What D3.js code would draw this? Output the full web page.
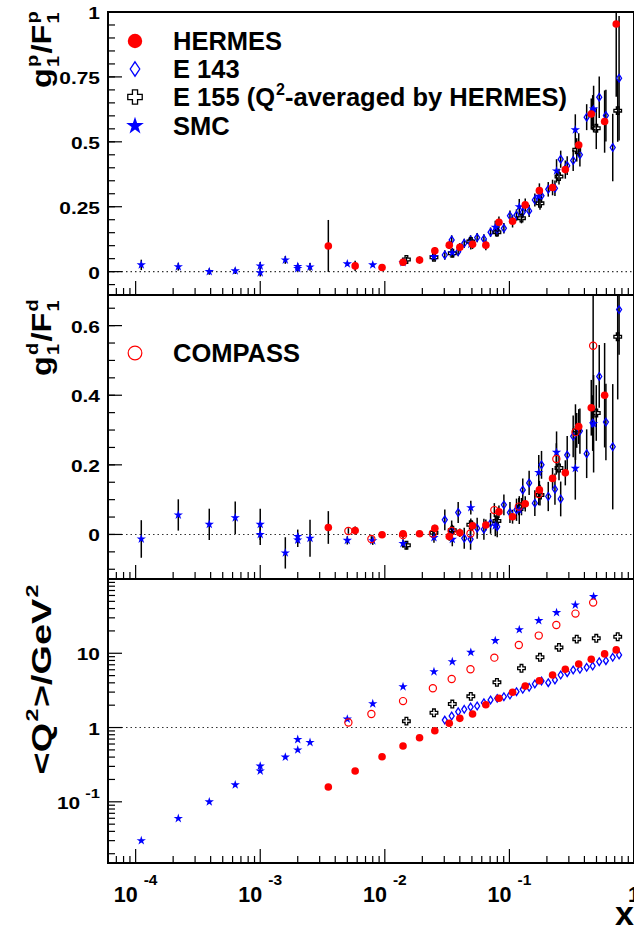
<!DOCTYPE html>
<html>
<head>
<meta charset="utf-8">
<script src="https://cdn.jsdelivr.net/npm/d3@7"></script>
<style>
body { margin: 0; background: #fff; }
text { font-family: "Liberation Sans", Arial, Helvetica, sans-serif; font-weight: bold; fill: #000; }
</style>
</head>
<body>
<svg id="chart" width="634" height="927"></svg>
<script>
// HERMES
var xHermes = [0.00352, 0.00578, 0.0095, 0.0140, 0.0190, 0.0252, 0.0329, 0.0400, 0.0506, 0.0647,
               0.0824, 0.106, 0.134, 0.174, 0.222, 0.281, 0.360, 0.454, 0.581, 0.720];
var g1pHermes = [0.099, 0.022, 0.016, 0.036, 0.045, 0.080, 0.102, 0.094, 0.105, 0.102,
                 0.190, 0.194, 0.257, 0.312, 0.324, 0.393, 0.488, 0.607, 0.578, 0.954];
var g1pHermesErr = [0.10, 0.02, 0.012, 0.012, 0.014, 0.015, 0.015, 0.016, 0.018, 0.02,
                    0.022, 0.024, 0.025, 0.028, 0.03, 0.035, 0.045, 0.06, 0.12, 0.28];
var g1dHermes = [0.02, 0.011, -0.001, 0.002, 0.002, 0.018, -0.006, 0.005, 0.025, 0.027,
                 0.065, 0.051, 0.088, 0.128, 0.161, 0.177, 0.31, 0.364, 0.40, null];
var g1dHermesErr = [0.047, 0.012, 0.008, 0.008, 0.009, 0.01, 0.012, 0.012, 0.014, 0.016,
                    0.018, 0.02, 0.022, 0.026, 0.03, 0.036, 0.05, 0.08, 0.15, null];
var q2Hermes = [0.158, 0.26, 0.405, 0.564, 0.73, 0.906, 1.14, 1.33, 1.52, 2.03,
                2.48, 2.98, 3.62, 4.27, 5.1, 6.08, 7.18, 8.3, 9.8, 11.1];

// E 143
var xE143 = [0.0303, 0.0344, 0.0388, 0.0434, 0.0488, 0.0551, 0.0624, 0.0706, 0.0798, 0.0903,
             0.101, 0.114, 0.128, 0.144, 0.160, 0.181, 0.205, 0.232, 0.258, 0.291,
             0.325, 0.368, 0.417, 0.466, 0.526, 0.595, 0.675, 0.759];
var g1pE143 = [0.064, 0.122, 0.077, 0.109, 0.122, 0.131, 0.126, 0.152, 0.16, 0.167,
               0.215, 0.218, 0.229, 0.234, 0.276, 0.292, 0.317, 0.321, 0.433, 0.408,
               0.428, 0.45, 0.595, 0.62, 0.672, 0.601, 0.478, 0.745];
var g1pE143Err = [0.018, 0.018, 0.018, 0.018, 0.018, 0.018, 0.018, 0.018, 0.02, 0.02,
                  0.02, 0.022, 0.022, 0.024, 0.025, 0.027, 0.028, 0.03, 0.033, 0.036,
                  0.04, 0.045, 0.05, 0.06, 0.08, 0.1, 0.13, 0.24];
var g1dE143 = [0.042, 0.01, 0.063, -0.011, -0.014, 0.018, 0.015, 0.032, 0.022, 0.085,
               0.063, 0.071, 0.128, 0.148, 0.09, 0.20, 0.109, 0.13, 0.102, 0.228,
               0.282, 0.297, 0.232, 0.32, 0.454, 0.323, 0.252, 0.646];
var g1dE143Err = [0.03, 0.03, 0.03, 0.03, 0.03, 0.03, 0.03, 0.03, 0.03, 0.03,
                  0.03, 0.032, 0.033, 0.035, 0.037, 0.04, 0.042, 0.045, 0.05, 0.055,
                  0.06, 0.065, 0.07, 0.08, 0.09, 0.11, 0.18, 0.13];
var q2E143 = [1.26, 1.43, 1.63, 1.76, 1.89, 1.95, 2.16, 2.35, 2.47, 2.60,
              2.74, 3.04, 3.27, 3.48, 3.86, 4.24, 4.02, 4.37, 5.1, 5.48,
              5.96, 6.08, 6.47, 6.74, 7.7, 7.95, 8.83, 9.49];

// E 155 (Q2-averaged by HERMES)
var xE155 = [0.0149, 0.0248, 0.0348, 0.049, 0.0794, 0.125, 0.176, 0.25, 0.347, 0.498, 0.74];
var g1pE155 = [0.047, 0.055, 0.071, 0.116, 0.152, 0.206, 0.263, 0.366, 0.469, 0.552, 0.62];
var g1pE155Err = [0.01, 0.012, 0.014, 0.016, 0.018, 0.02, 0.025, 0.03, 0.045, 0.08, 0.12];
var g1dE155 = [-0.031, 0.005, 0.012, 0.028, 0.039, 0.08, 0.113, 0.191, 0.299, 0.349, 0.568];
var g1dE155Err = [0.012, 0.015, 0.016, 0.018, 0.02, 0.025, 0.03, 0.035, 0.05, 0.08, 0.18];
var q2E155 = [1.22, 1.58, 2.07, 2.63, 4.06, 6.28, 8.83, 12.0, 15.5, 15.9, 16.7];

// SMC
var xSmc = [1.11e-4, 2.2e-4, 3.9e-4, 6.3e-4, 1.0e-3, 1.0e-3, 1.59e-3, 2.0e-3, 2.0e-3, 2.51e-3,
            5.0e-3, 8.0e-3, 0.014, 0.0248, 0.0348, 0.049, 0.077, 0.12, 0.172, 0.239, 0.338, 0.474];
var g1pSmc = [0.026, 0.019, 0.0, 0.003, 0.022, -0.004, 0.045, 0.02, 0.012, 0.018,
              0.030, 0.026, 0.035, 0.058, 0.073, 0.105, 0.171, 0.25, 0.29, 0.388, 0.546, 0.626];
var g1pSmcErr = [0.02, 0.015, 0.012, 0.012, 0.015, 0.015, 0.015, 0.012, 0.01, 0.015,
                 0.008, 0.008, 0.01, 0.015, 0.018, 0.02, 0.025, 0.03, 0.035, 0.045, 0.06, 0.09];
var g1dSmc = [-0.013, 0.056, 0.029, 0.048, 0.029, 0.0, -0.053, -0.006, -0.016, -0.011,
              -0.017, -0.018, -0.026, -0.009, -0.014, 0.077, 0.025, 0.07, 0.178, 0.236, 0.19, 0.318];
var g1dSmcErr = [0.054, 0.045, 0.045, 0.047, 0.045, 0.03, 0.045, 0.02, 0.02, 0.053,
                 0.012, 0.012, 0.012, 0.015, 0.02, 0.02, 0.03, 0.04, 0.05, 0.06, 0.09, 0.14];
var q2Smc = [0.030, 0.0597, 0.100, 0.169, 0.303, 0.26, 0.40, 0.69, 0.50, 0.63,
             1.30, 2.09, 3.55, 5.65, 7.7, 10.3, 14.8, 20.8, 27.5, 35.3, 44.7, 57.9];

// COMPASS
var xCompass = [0.0051, 0.0078, 0.014, 0.0243, 0.0344, 0.0487, 0.0757, 0.119, 0.172, 0.238, 0.339, 0.47];
var g1dCompass = [0.01, -0.013, -0.002, 0.003, 0.01, 0.003, 0.07, 0.08, 0.116, 0.217, 0.294, 0.542];
var g1dCompassErr = [0.008, 0.008, 0.008, 0.01, 0.012, 0.015, 0.02, 0.025, 0.032, 0.045, 0.08, 0.17];
var q2Compass = [1.17, 1.52, 2.27, 3.38, 4.5, 6.08, 8.73, 12.9, 17.3, 24, 34.2, 48.1];

var xTickVals = [1e-4, 1e-3, 1e-2, 1e-1, 1];
var xTickLabels = [["10", "-4"], ["10", "-3"], ["10", "-2"], ["10", "-1"], ["1", ""]];

var svg = d3.select("#chart");
var LEFT = 108, RIGHT = 634;
var x = d3.scaleLog().domain([6e-5, 1]).range([LEFT, RIGHT]);

var panels = [
	{ id: "p", top: 12, bottom: 295, y: d3.scaleLinear().domain([-0.09, 1]).range([295, 12]),
	  major: [0, 0.25, 0.5, 0.75, 1], labels: ["0", "0.25", "0.5", "0.75", "1"], step: 0.05, lo: -0.1, hi: 1 },
	{ id: "d", top: 295, bottom: 579, y: d3.scaleLinear().domain([-0.128, 0.688]).range([579, 295]),
	  major: [0, 0.2, 0.4, 0.6], labels: ["0", "0.2", "0.4", "0.6"], step: 0.05, lo: -0.15, hi: 0.7 },
	{ id: "q", top: 579, bottom: 863, y: d3.scaleLog().domain([0.015, 100]).range([863, 579]),
	  major: [0.1, 1, 10], labels: [["10", "-1"], "1", "10"], log: true }
];

function pts(xs, ys, es) {
	var out = [];
	for (var i = 0; i < xs.length; i++) {
		if (ys[i] === null || ys[i] === undefined) continue;
		out.push({ x: xs[i], v: ys[i], e: es ? es[i] : 0 });
	}
	return out;
}

// marker shapes
function crossPath(a, t) {
	return "M" + [[-t,-a],[t,-a],[t,-t],[a,-t],[a,t],[t,t],[t,a],[-t,a],[-t,t],[-a,t],[-a,-t],[-t,-t]].join("L") + "Z";
}
function diamondPath(w, h) {
	return "M0," + (-h) + "L" + w + ",0L0," + h + "L" + (-w) + ",0Z";
}
function addMarker(g, kind, cx, cy, k) {
	if (kind == "hermes") {
		g.append("circle").attr("cx", cx).attr("cy", cy).attr("r", 3.8 * k).attr("fill", "#ff0000");
	} else if (kind == "compass") {
		g.append("circle").attr("cx", cx).attr("cy", cy).attr("r", 3.6 * k)
			.attr("fill", "none").attr("stroke", "#ff0000").attr("stroke-width", 1.2);
	} else if (kind == "e143") {
		g.append("path").attr("d", diamondPath(2.5 * k, 3.8 * k)).attr("transform", "translate(" + cx + "," + cy + ")")
			.attr("fill", "none").attr("stroke", "#0000ff").attr("stroke-width", 1.3);
	} else if (kind == "e155") {
		g.append("path").attr("d", crossPath(3.8 * k, 1.35 * k)).attr("transform", "translate(" + cx + "," + cy + ")")
			.attr("fill", "none").attr("stroke", "#000").attr("stroke-width", 1.3);
	} else if (kind == "smc") {
		g.append("path").attr("d", d3.symbol(d3.symbolStar, 27 * k * k)()).attr("transform", "translate(" + cx + "," + cy + ")")
			.attr("fill", "#0000ff");
	}
}

var series = {
	p: [["e143", pts(xE143, g1pE143, g1pE143Err)], ["e155", pts(xE155, g1pE155, g1pE155Err)],
	    ["smc", pts(xSmc, g1pSmc, g1pSmcErr)], ["hermes", pts(xHermes, g1pHermes, g1pHermesErr)]],
	d: [["e143", pts(xE143, g1dE143, g1dE143Err)], ["e155", pts(xE155, g1dE155, g1dE155Err)],
	    ["smc", pts(xSmc, g1dSmc, g1dSmcErr)], ["compass", pts(xCompass, g1dCompass, g1dCompassErr)],
	    ["hermes", pts(xHermes, g1dHermes, g1dHermesErr)]],
	q: [["e143", pts(xE143, q2E143)], ["e155", pts(xE155, q2E155)], ["smc", pts(xSmc, q2Smc)],
	    ["compass", pts(xCompass, q2Compass)], ["hermes", pts(xHermes, q2Hermes)]]
};

var defs = svg.append("defs");

// minor x ticks
var xMinor = [];
for (var d = -5; d < 0; d++) {
	for (var m = 2; m <= 9; m++) {
		var v = m * Math.pow(10, d);
		if (v > 6e-5 && v < 1) xMinor.push(v);
	}
}

// y label helper: wide bold font, optional superscript
function tickLabel(g, px, py, lab, anchor) {
	var t = g.append("text")
		.attr("transform", "translate(" + px + "," + py + ") scale(1.27,1)")
		.attr("text-anchor", anchor)
		.style("font-size", "16.5px");
	if (typeof lab == "string") {
		t.text(lab);
	} else {
		t.append("tspan").text(lab[0]);
		if (lab[1]) t.append("tspan").attr("dx", 4).attr("dy", -11).style("font-size", "13px").text(lab[1]);
	}
	return t;
}

panels.forEach(function(p) {
	var g = svg.append("g");
	defs.append("clipPath").attr("id", "clip-" + p.id)
		.append("rect").attr("x", LEFT).attr("y", p.top).attr("width", RIGHT - LEFT).attr("height", p.bottom - p.top);

	// dotted reference line
	var ref = p.log ? 1 : 0;
	g.append("line").attr("x1", LEFT).attr("x2", RIGHT).attr("y1", p.y(ref)).attr("y2", p.y(ref))
		.attr("stroke", "#333").attr("stroke-width", 1.1).attr("stroke-dasharray", "1.5,3");

	// x ticks (pointing up from the bottom)
	xTickVals.forEach(function(v) {
		g.append("line").attr("x1", x(v)).attr("x2", x(v)).attr("y1", p.bottom).attr("y2", p.bottom - 14)
			.attr("stroke", "#000").attr("stroke-width", 1.2);
	});
	xMinor.forEach(function(v) {
		g.append("line").attr("x1", x(v)).attr("x2", x(v)).attr("y1", p.bottom).attr("y2", p.bottom - 7)
			.attr("stroke", "#000").attr("stroke-width", 1.2);
	});

	// y ticks
	var minors = [];
	if (p.log) {
		for (var d = -2; d <= 1; d++) {
			for (var m = 2; m <= 9; m++) minors.push(m * Math.pow(10, d));
		}
	} else {
		for (var v = p.lo; v <= p.hi + 1e-9; v += p.step) minors.push(Math.round(v * 1000) / 1000);
	}
	minors = minors.filter(function(v) { var yy = p.y(v); return yy > p.top && yy < p.bottom; });
	minors.forEach(function(v) {
		g.append("line").attr("x1", LEFT).attr("x2", LEFT + 7).attr("y1", p.y(v)).attr("y2", p.y(v))
			.attr("stroke", "#000").attr("stroke-width", 1.2);
	});
	p.major.forEach(function(v, i) {
		g.append("line").attr("x1", LEFT).attr("x2", LEFT + 14).attr("y1", p.y(v)).attr("y2", p.y(v))
			.attr("stroke", "#000").attr("stroke-width", 1.2);
		tickLabel(svg, 100, p.y(v) + 7, p.labels[i], "end");
	});

	// data
	var dg = g.append("g").attr("clip-path", "url(#clip-" + p.id + ")");
	series[p.id].forEach(function(s) {
		s[1].forEach(function(d) {
			if (d.e > 0) {
				dg.append("line").attr("x1", x(d.x)).attr("x2", x(d.x))
					.attr("y1", p.y(d.v - d.e)).attr("y2", p.y(d.v + d.e))
					.attr("stroke", "#000").attr("stroke-width", 1.5);
			}
		});
	});
	series[p.id].forEach(function(s) {
		s[1].forEach(function(d) { addMarker(dg, s[0], x(d.x), p.y(d.v), 1); });
	});

	// frame
	g.append("rect").attr("x", LEFT).attr("y", p.top).attr("width", RIGHT - LEFT).attr("height", p.bottom - p.top)
		.attr("fill", "none").attr("stroke", "#000").attr("stroke-width", 2);
});

// x tick labels under the bottom panel (larger than the y labels)
xTickVals.forEach(function(v, i) {
	var lab = xTickLabels[i];
	var t = svg.append("text").attr("x", x(v)).attr("y", 902).attr("text-anchor", "middle")
		.style("font-size", "21.5px");
	t.append("tspan").text(lab[0]);
	if (lab[1]) t.append("tspan").attr("dx", 6).attr("dy", -17).style("font-size", "15.5px").text(lab[1]);
});
svg.append("text").attr("x", 634).attr("y", 925).attr("text-anchor", "end")
	.style("font-size", "34px").text("x");

// rotated y titles built from pieces (g_1^p / F_1^p style)
function rotTitle(parts, baseX, yEnd, fs, stretch) {
	var g = svg.append("g");
	var cur = 0;
	parts.forEach(function(pt) {
		if (pt.t) {
			var t = g.append("text").attr("x", cur).attr("y", 0).style("font-size", fs + "px").text(pt.t);
			cur += t.node().getComputedTextLength();
		} else {
			var w = 0;
			if (pt.sub) {
				var s1 = g.append("text").attr("x", cur + 1).attr("y", 0.3 * fs).style("font-size", (0.62 * fs) + "px").text(pt.sub);
				w = Math.max(w, s1.node().getComputedTextLength());
			}
			if (pt.sup) {
				var s2 = g.append("text").attr("x", cur + 1).attr("y", -0.5 * fs).style("font-size", (0.62 * fs) + "px").text(pt.sup);
				w = Math.max(w, s2.node().getComputedTextLength());
			}
			cur += w + 2;
		}
	});
	g.attr("transform", "translate(" + baseX + "," + (yEnd + cur * stretch) + ") rotate(-90) scale(" + stretch + ",1)");
}
rotTitle([{ t: "g" }, { sub: "1", sup: "p" }, { t: "/" }, { t: "F" }, { sub: "1", sup: "p" }], 51, 10, 27, 1.2);
rotTitle([{ t: "g" }, { sub: "1", sup: "d" }, { t: "/" }, { t: "F" }, { sub: "1", sup: "d" }], 51, 298, 27, 1.2);
rotTitle([{ t: "<Q" }, { sup: "2" }, { t: ">/GeV" }, { sup: "2" }], 51, 583, 27, 1.4);

// legends
var legTop = [["hermes", "HERMES"], ["e143", "E 143"], ["e155", null], ["smc", "SMC"]];
var legRows = [41, 69, 97, 126];
var lg = svg.append("g");
legTop.forEach(function(l, i) {
	addMarker(lg, l[0], 135, legRows[i], 1.9);
	var t = lg.append("text").attr("x", 173).attr("y", legRows[i] + 9.2).style("font-size", "25.5px");
	if (l[1]) {
		t.text(l[1]);
	} else {
		t.append("tspan").text("E 155 (Q");
		t.append("tspan").attr("dx", 1).attr("dy", -11).style("font-size", "16px").text("2");
		t.append("tspan").attr("dy", 11).text("-averaged by HERMES)");
	}
});
addMarker(lg, "compass", 135, 353, 1.9);
lg.append("text").attr("x", 173).attr("y", 362).style("font-size", "25.5px").text("COMPASS");
</script>
</body>
</html>
